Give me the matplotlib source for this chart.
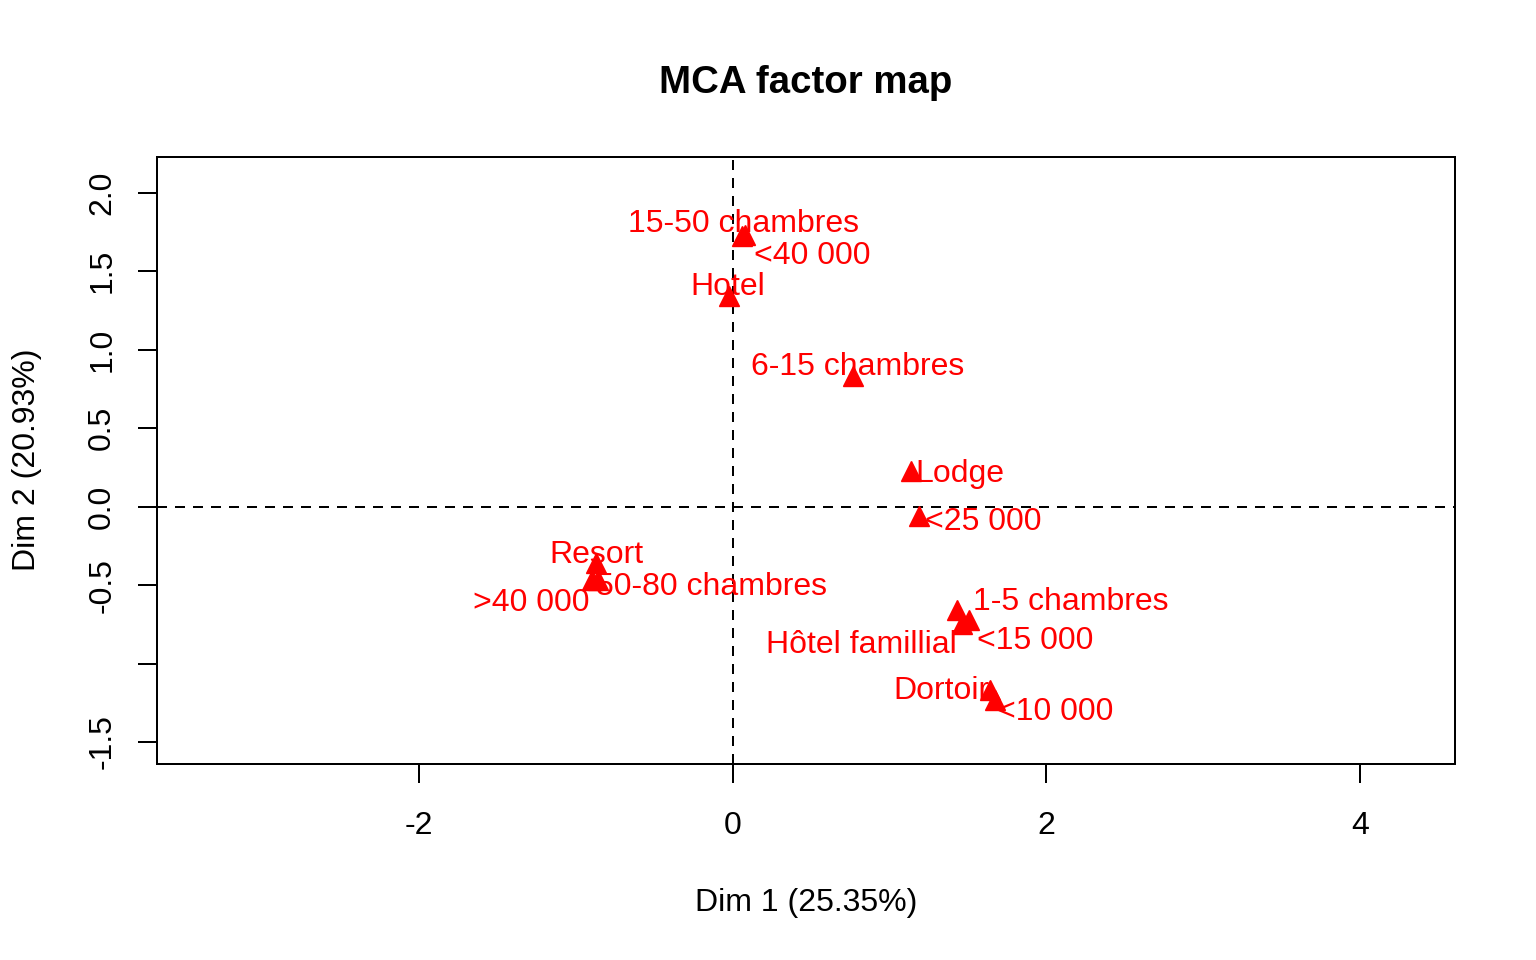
import matplotlib
matplotlib.use("Agg")
import matplotlib.pyplot as plt

# MCA category coordinates (Dim 1, Dim 2)
categories = ["15-50 chambres", "<40 000", "Hotel", "6-15 chambres", "Lodge",
              "<25 000", "Resort", "50-80 chambres", ">40 000", "1-5 chambres",
              "Hôtel famillial", "<15 000", "Dortoir", "<10 000"]
dim1 = [0.076, 0.06, -0.025, 0.77, 1.135, 1.185, -0.87, -0.86, -0.90, 1.43,
        1.46, 1.51, 1.64, 1.67]
dim2 = [1.735, 1.725, 1.34, 0.835, 0.23, -0.06, -0.36, -0.465, -0.47, -0.66,
        -0.745, -0.72, -1.17, -1.23]

# label placement (offset from point, in pixels)
label_dx = [-1, 70, -1, 4, 49, 65, 0, 114, -60, 114, -100, 66, -48, 61]
label_dy = [11, -20, 9, 9, -3, -6, 8, -7, -23, 8, -21, -21, -1, -12]

xticks = [-2, 0, 2, 4]
yticks = [-1.5, -1.0, -0.5, 0.0, 0.5, 1.0, 1.5, 2.0]
ytick_labels = ["-1.5", "", "-0.5", "0.0", "0.5", "1.0", "1.5", "2.0"]

plt.rcParams['font.family'] = ['Liberation Sans', 'DejaVu Sans']
fs = 23

fig = plt.figure(figsize=(15.36, 9.6), dpi=100)
ax = fig.add_axes([157 / 1536, 1 - 764 / 960, 1298 / 1536, 607 / 960])

ax.axhline(0, color='black', lw=1.44, ls=(0, (5, 4)), zorder=1)
ax.axvline(0, color='black', lw=1.44, ls=(0, (5, 4)), zorder=1)
ax.plot(dim1, dim2, ls='none', marker='^', ms=14, color='red', mec='red', zorder=3)

for lab, x, y, dx, dy in zip(categories, dim1, dim2, label_dx, label_dy):
    ax.annotate(lab, (x, y), xytext=(dx, dy), textcoords='offset pixels',
                ha='center', va='center', color='red', fontsize=fs, zorder=4)

ax.set_xlim(-3.671, 4.606)
ax.set_ylim(-1.640, 2.229)
ax.set_xticks(xticks)
ax.set_xticklabels([str(t) for t in xticks])
ax.set_yticks(yticks)
ax.set_yticklabels(ytick_labels, rotation=90, va='center')
ax.tick_params(direction='out', length=13.7, width=1.44, labelsize=fs)
ax.tick_params(axis='x', pad=20)
ax.tick_params(axis='y', pad=15)
for s in ax.spines.values():
    s.set_linewidth(1.44)

fig.text(806 / 1536, 1 - 83 / 960, "MCA factor map", ha='center', va='center',
         fontsize=27.6, fontweight='bold')
fig.text(806 / 1536, 1 - 903 / 960, "Dim 1 (25.35%)", ha='center', va='center',
         fontsize=fs)
fig.text(27 / 1536, 1 - 460 / 960, "Dim 2 (20.93%)", ha='center', va='center',
         fontsize=fs, rotation=90)

fig.savefig("out.png", dpi=100)
